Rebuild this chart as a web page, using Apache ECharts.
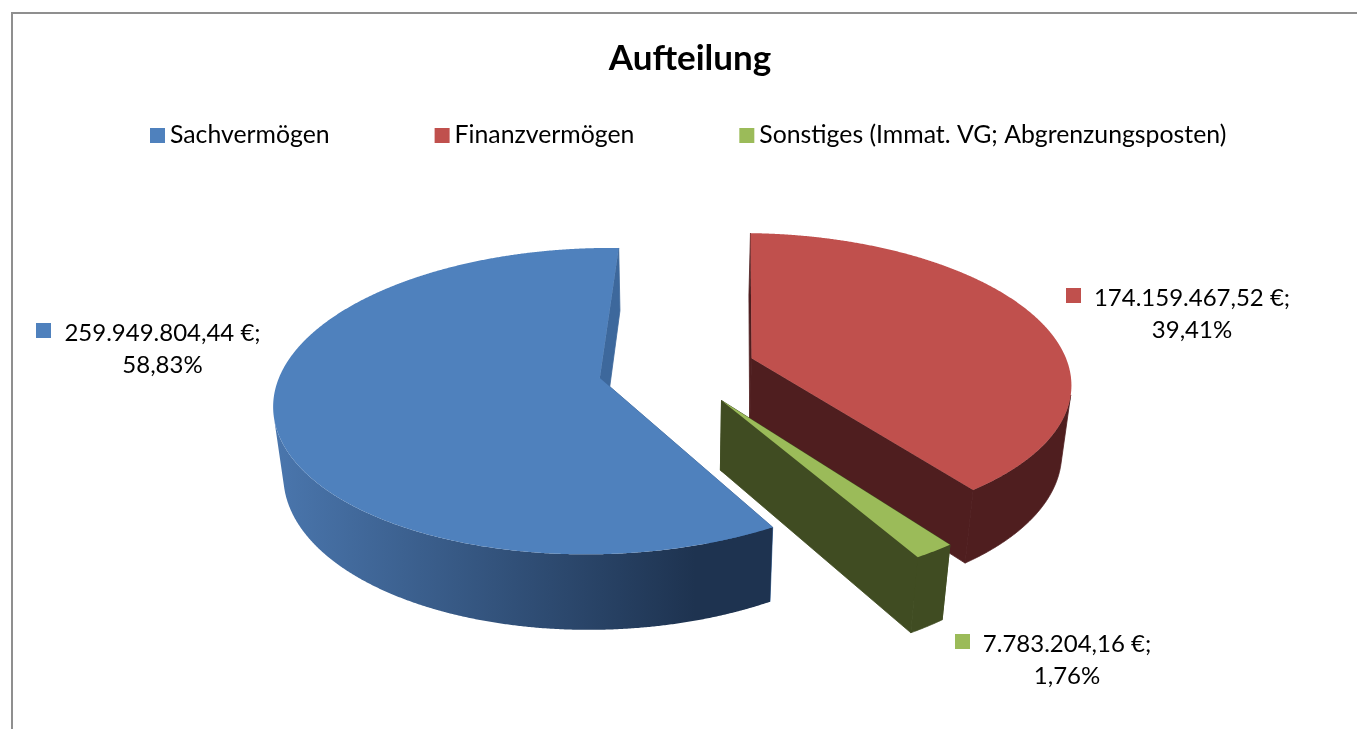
<!DOCTYPE html>
<html><head><meta charset="utf-8">
<style>html,body{margin:0;padding:0;background:#fff}#c{width:1357px;height:729px}</style>
<script src="https://cdn.jsdelivr.net/npm/echarts@6/dist/echarts.min.js"></script>
</head><body><div id="c"></div>
<script>
const categories = ['Sachvermögen', 'Finanzvermögen', 'Sonstiges (Immat. VG; Abgrenzungsposten)'];
const values = [259949804.44, 174159467.52, 7783204.16];
const chartTitle = 'Aufteilung';

const FONT = 'Lato, Carlito, "Open Sans", sans-serif';
const colors = ['#4f81bd', '#c0504d', '#9bbb59'];
const faceColors = ['#3d689c', '#4f1e1f', '#404c22'];
const labelLayout = [
  {kx: 36, ky: 323, cx: 162.5, y: 349},
  {kx: 1066, ky: 288, cx: 1192, y: 314},
  {kx: 955, ky: 634, cx: 1067, y: 660}
];
// projection of the tilted pie
const P = {cx: 677, cy: 369, R: 318, a: 147, k: 0.15, m: 0.025, h: 70, explode: 0.248, firstRed: 1.8};
const total = values.reduce((s, v) => s + v, 0);
const rad = d => d * Math.PI / 180;
const startBlue = P.firstRed - values[0] / total * 360;
const spans = values.map(v => v / total * 360);
const starts = [startBlue, P.firstRed, P.firstRed + spans[1]];

function project(x, y, z) {
  const w = 1 - P.k * y + P.m * z;
  return [P.cx + P.R * x / w, P.cy + (P.a * y + P.h * z) / w];
}
function fmt(v) {
  const [i, d] = v.toFixed(2).split('.');
  return i.replace(/\B(?=(\d{3})+$)/g, '.') + ',' + d;
}
function renderSlice(idx) {
  return function (params, api) {
    const value = api.value(0);
    const span = value / total * 360;
    const t0 = starts[idx], t1 = t0 + span, mid = t0 + span / 2;
    const ox = Math.sin(rad(mid)) * P.explode, oy = -Math.cos(rad(mid)) * P.explode;
    const rim = (t, z) => project(ox + Math.sin(rad(t)), oy - Math.cos(rad(t)), z);
    const apex = z => project(ox, oy, z);
    const n = Math.max(8, Math.ceil(span * 4));
    const ang = [];
    for (let i = 0; i <= n; i++) ang.push(t0 + span * i / n);
    const topArc = ang.map(t => rim(t, 0));
    const front = t => {
      const a = rim(t, 0), b = rim(t + 0.1, 0), c = rim(t, 1);
      return (b[0] - a[0]) * (c[1] - a[1]) - (b[1] - a[1]) * (c[0] - a[0]) < 0;
    };
    const visible = ang.filter(front);
    const wallFill = idx === 0 ? {
      type: 'linear', global: true, x: 275, y: 0, x2: 695, y2: 0,
      colorStops: [{offset: 0, color: '#4a76ad'}, {offset: 1, color: '#1e3350'}]
    } : faceColors[idx];
    const poly = (points, fill, z2) => ({type: 'polygon', z2, shape: {points},
      style: {fill, stroke: idx === 0 && z2 === 2 ? null : fill, lineWidth: 0.8, lineJoin: 'round'}});
    const wallPts = visible.map(t => rim(t, 0)).concat(visible.slice().reverse().map(t => rim(t, 1)));
    const k = labelLayout[idx];
    const pct = (value / total * 100).toFixed(2).replace('.', ',');
    return {type: 'group', children: [
      poly([apex(0), rim(t0, 0), rim(t0, 1), apex(1)], faceColors[idx], 1),
      poly([apex(0), rim(t1, 0), rim(t1, 1), apex(1)], faceColors[idx], 1),
      poly(wallPts, wallFill, 2),
      {type: 'polygon', z2: 3, shape: {points: [apex(0)].concat(topArc)}, style: {fill: colors[idx]}},
      {type: 'rect', z2: 4, shape: {x: k.kx, y: k.ky, width: 15, height: 15}, style: {fill: colors[idx]}},
      {type: 'text', z2: 4, x: k.cx, y: k.y, style: {
        text: fmt(value) + ' €;\n' + pct + '%', fill: '#000', font: '24px ' + FONT,
        lineHeight: 32, textAlign: 'center', textVerticalAlign: 'middle'
      }}
    ]};
  };
}
const chart = echarts.init(document.getElementById('c'), null, {renderer: 'canvas'});
chart.setOption({
  animation: false,
  backgroundColor: '#fff',
  title: {text: chartTitle, left: 685, top: 36, textAlign: 'center',
    textStyle: {fontFamily: FONT, fontWeight: 'bold', fontSize: 35, color: '#000'}},
  legend: {data: categories, left: 145, top: 118, icon: 'rect', itemWidth: 15, itemHeight: 15,
    itemGap: 105, selectedMode: false, textStyle: {fontFamily: FONT, fontSize: 24.8, color: '#000'}},
  graphic: [{type: 'polyline', shape: {points: [[12, 729], [12, 13], [1357, 13]]},
    style: {stroke: '#8f8f8f', lineWidth: 2, fill: null}, silent: true}],
  series: categories.map((name, i) => ({
    type: 'custom', name, coordinateSystem: 'none', silent: true,
    itemStyle: {color: colors[i]},
    data: [[values[i]]],
    renderItem: renderSlice(i)
  }))
});
</script></body></html>
